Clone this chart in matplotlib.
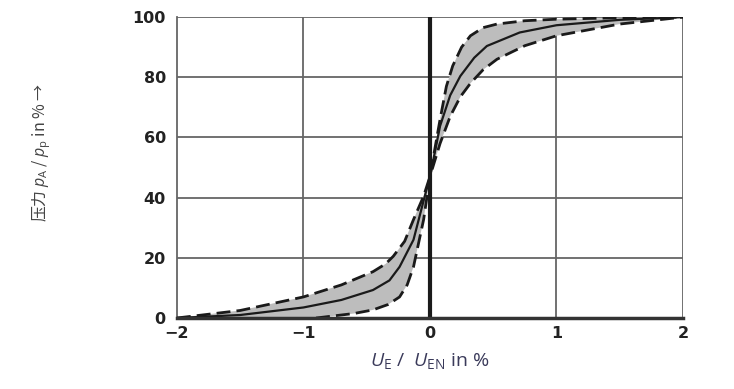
import numpy as np
import matplotlib
matplotlib.use("Agg")
import matplotlib.pyplot as plt

# middle (solid) curve
x_mid = [-2, -1.5, -1.0, -0.7, -0.45, -0.32, -0.24, -0.13, -0.05, 0, 0.08, 0.16, 0.24, 0.35, 0.45, 0.71, 1.0, 1.5, 2]
y_mid = [0, 1.0, 3.5, 6, 9.3, 12.5, 17, 26, 39, 47, 63.8, 74, 80.4, 86.5, 90.4, 94.9, 97.3, 99.1, 100]

# upper dashed bound
x_up = [-2, -1.5, -1.0, -0.7, -0.45, -0.35, -0.29, -0.2, -0.13, -0.05, 0, 0.08, 0.13, 0.18, 0.25, 0.32, 0.42, 0.53, 0.75, 1.0, 1.5, 2]
y_up = [0, 2.5, 7, 11, 15.4, 18, 20.5, 25.5, 32.7, 40.5, 47, 66, 77, 83.8, 90, 93.8, 96.5, 97.7, 98.8, 99.3, 99.8, 100]

# lower dashed bound
x_lo = [-0.9, -0.6, -0.45, -0.33, -0.24, -0.18, -0.13, -0.05, 0, 0.08, 0.16, 0.24, 0.32, 0.42, 0.53, 0.75, 1.0, 1.5, 2]
y_lo = [0, 1.5, 2.7, 4.5, 7, 11, 17, 32.7, 47, 58, 67, 73.5, 78, 82.5, 86, 90.5, 93.8, 97.7, 100]

x_ticks = [-2, -1, 0, 1, 2]
x_ticklabels = ["\u22122", "\u22121", "0", "1", "2"]
y_ticks = [0, 20, 40, 60, 80, 100]

plt.rcParams["mathtext.fontset"] = "custom"
plt.rcParams["mathtext.it"] = "Open Sans:italic"
plt.rcParams["mathtext.rm"] = "Open Sans"

fig = plt.figure(figsize=(7.34, 3.89), dpi=100)
ax = fig.add_axes([0.241, 0.1825, 0.6895, 0.7735])

# shaded band between the two dashed bounds
poly_x = list(x_up) + list(x_lo[::-1]) + [-2]
poly_y = list(y_up) + list(y_lo[::-1]) + [0]
ax.fill(poly_x, poly_y, color="#bdbdbd", lw=0, zorder=1)

ax.plot(x_mid, y_mid, color="#1a1a1a", lw=1.6, zorder=3)
ax.plot(x_up, y_up, color="#1a1a1a", lw=2.0, ls=(0, (5, 2.2)), zorder=3)
ax.plot(x_lo, y_lo, color="#1a1a1a", lw=2.0, ls=(0, (5, 2.2)), zorder=3)

ax.set_xlim(-2, 2)
ax.set_ylim(0, 100)

for v in [-1, 1, 2]:
    ax.axvline(v, color="#666666", lw=1.3, zorder=0)
for v in [20, 40, 60, 80, 100]:
    ax.axhline(v, color="#666666", lw=1.3, zorder=0)
ax.axvline(0, color="#1a1a1a", lw=3, zorder=4)

for s in ["top", "right"]:
    ax.spines[s].set_visible(False)
ax.spines["left"].set_color("#666666")
ax.spines["left"].set_linewidth(1.3)
ax.spines["bottom"].set_color("#333333")
ax.spines["bottom"].set_linewidth(2.5)
ax.spines["bottom"].set_zorder(5)

ax.set_xticks(x_ticks)
ax.set_xticklabels(x_ticklabels)
ax.set_yticks(y_ticks)
ax.tick_params(axis="y", length=0, pad=8)
ax.tick_params(axis="x", length=0, pad=6)
for lab in ax.get_xticklabels() + ax.get_yticklabels():
    lab.set_fontfamily("DejaVu Sans")
    lab.set_fontweight("bold")
    lab.set_fontsize(11.5)
    lab.set_color("#222222")

ax.set_xlabel(r"$U_\mathrm{E}$ /  $U_\mathrm{EN}$ in %", fontsize=14,
              family="Open Sans", color="#3a3a5a", labelpad=7)
ax.set_ylabel("压力 $p_\\mathrm{A}$ / $p_\\mathrm{p}$ in % →", fontsize=11.5,
              family=["Noto Sans CJK SC", "DejaVu Sans"], color="#444444")
ax.yaxis.set_label_coords(-0.245, 0.55)

fig.savefig("out.png", dpi=100)
